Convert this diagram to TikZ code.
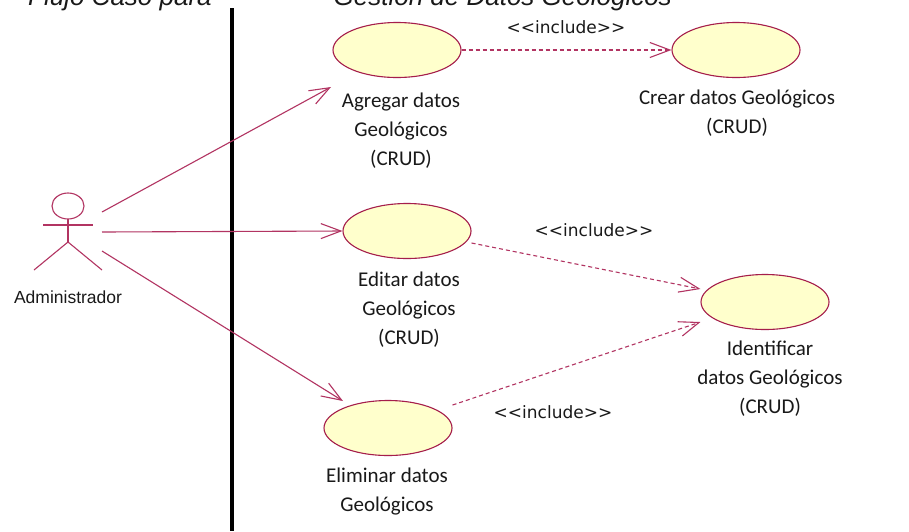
\documentclass[tikz,border=0pt]{standalone}
\usepackage{fontspec}
\setmainfont{Carlito}
\newfontfamily\inclfont{DejaVu Sans}
\newfontfamily\arialfont{Liberation Sans}
\usetikzlibrary{shapes.geometric,arrows.meta,calc}
\definecolor{umlline}{RGB}{178,52,98}
\definecolor{umlborder}{RGB}{165,30,75}
\definecolor{ucfill}{RGB}{255,255,204}
\definecolor{txt}{RGB}{25,25,25}
\begin{document}
\begin{tikzpicture}[x=1pt,y=-1pt,
  usecase/.style={ellipse,draw=umlborder,fill=ucfill,line width=1.1pt,minimum width=128pt,minimum height=55pt,inner sep=0pt},
  uclabel/.style={align=center,font=\fontsize{21}{29}\selectfont,text=txt,inner sep=0pt},
  incl/.style={font=\inclfont\fontsize{17}{20}\selectfont,text=txt,inner sep=0pt},
  titletext/.style={font=\arialfont\itshape\fontsize{26}{30}\selectfont,inner sep=0pt,text=txt},
  assoc/.style={draw=umlline,line width=1.1pt,-{Straight Barb[length=20pt,width=15pt]}},
  dep/.style={assoc,dash pattern=on 4pt off 3pt},
  actorline/.style={draw=umlline,line width=1.1pt}]
\useasboundingbox (0,0) rectangle (909,531);
\clip (0,0) rectangle (909,531);
\fill[white] (0,0) rectangle (909,531);

% title (cut off by the top edge)
\node[titletext,anchor=base west] (titleA) at (28,5.5) {Flujo Caso para};
\node[titletext,anchor=base east] (titleB) at (672,5.5) {Gestión de Datos Geológicos};

% system boundary
\coordinate (sysTop) at (232,8);
\coordinate (sysBot) at (232,531);
\draw[line width=3.5pt,black] (sysTop) -- (sysBot);

% actor
\draw[actorline] (68,206) ellipse [x radius=16pt, y radius=13pt];
\draw[actorline] (43,225) -- (93,225);
\draw[actorline] (68,219) -- (68,242);
\draw[actorline] (34,270) -- (68,242) -- (102,270);
\node[font=\arialfont\fontsize{17.5}{20}\selectfont,text=txt,inner sep=0pt] (admlabel) at (68,297) {Administrador};
\coordinate (a1) at (102,212);
\coordinate (a2) at (102,232);
\coordinate (a3) at (102,251);

% use cases
\node[usecase] (ag) at (397,50) {};
\node[usecase] (cr) at (736,50) {};
\node[usecase] (ed) at (407,231) {};
\node[usecase] (id) at (765,302) {};
\node[usecase] (el) at (388,428) {};

\node[uclabel] (agL) at (401,131) {Agregar datos\\Geológicos\\(CRUD)};
\node[uclabel] (crL) at (737,113) {Crear datos Geológicos\\(CRUD)};
\node[uclabel] (edL) at (409,310) {Editar datos\\Geológicos\\(CRUD)};
\node[uclabel] (idL) at (770,379) {Identificar\\datos Geológicos\\(CRUD)};
\node[uclabel] (elL) at (387,492) {Eliminar datos\\Geológicos};

\node[incl] (i1) at (566,27) {<\kern0pt<include>\kern0pt>};
\node[incl] (i2) at (594,230) {<\kern0pt<include>\kern0pt>};
\node[incl] (i3) at (553,412) {<\kern0pt<include>\kern0pt>};

% end points
\coordinate (agIn) at ($(ag.center)+(-66,37)$);
\coordinate (elIn) at ($(el.center)+(-45,-27)$);
\coordinate (edOut) at ($(ed.east)+(0,12)$);
\coordinate (elOut) at ($(el.east)+(0,-23)$);
\coordinate (idIn1) at ($(id.west)+(0,-13)$);
\coordinate (idIn2) at ($(id.west)+(0,20)$);

% associations
\draw[assoc] (a1) -- (agIn);
\draw[assoc] (a2) -- (ed.west);
\draw[assoc] (a3) -- (elIn);

% includes
\draw[dep] (ag.east) -- (cr.west);
\draw[dep] (edOut) -- (idIn1);
\draw[dep] (elOut) -- (idIn2);
\end{tikzpicture}
\end{document}
